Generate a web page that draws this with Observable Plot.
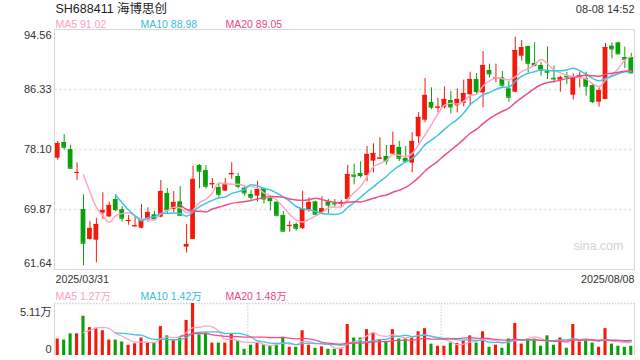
<!DOCTYPE html>
<html><head><meta charset="utf-8">
<script src="https://cdn.jsdelivr.net/npm/d3@7"></script>
<script src="https://cdn.jsdelivr.net/npm/@observablehq/plot@0.6"></script>
<style>
body{margin:0;background:#fff;}
#wrap{width:640px;height:360px;overflow:hidden;background:#fff;}
#wrap svg{display:block;}
</style></head><body>
<div id="wrap"></div>
<script>
const open = [76.91,79.06,78.10,74.90,69.87,65.76,65.66,69.37,68.86,71.24,
69.83,68.27,67.54,67.31,68.54,69.14,68.82,72.07,69.87,70.92,
64.70,65.76,75.91,75.22,73.30,72.89,72.39,74.63,74.40,72.80,
71.93,71.70,72.75,71.38,70.88,69.05,67.58,67.81,67.27,69.87,
70.92,69.46,70.92,70.69,70.56,71.24,74.58,74.81,74.53,76.50,
76.82,77.14,77.46,78.38,76.87,76.23,79.84,82.12,84.55,83.82,
83.86,84.82,84.09,84.41,85.60,87.70,85.87,88.94,87.79,87.93,
86.42,85.96,90.90,92.23,89.90,89.62,88.80,87.88,87.61,88.16,
85.55,87.88,87.84,86.88,84.59,84.96,92.27,92.73,90.72,90.72];
const high = [79.20,80.16,78.70,76.27,71.88,68.22,68.68,72.16,70.88,71.93,
70.28,69.05,68.87,70.56,70.10,69.60,73.85,72.75,72.34,73.03,
67.81,75.81,76.04,75.91,74.12,73.39,74.12,76.27,74.85,72.93,
72.52,73.76,72.80,71.56,70.92,69.60,68.22,68.04,72.39,71.47,
71.01,71.61,71.24,71.24,71.15,75.91,76.09,76.41,78.51,78.88,
79.70,78.65,80.48,79.20,78.51,80.39,83.17,87.84,86.56,85.14,
86.70,86.06,86.42,87.61,88.71,88.53,91.54,89.80,89.80,88.80,
87.43,93.51,93.05,92.27,92.73,90.03,92.18,89.53,88.16,88.71,
88.48,88.71,88.71,86.97,86.56,92.64,92.73,92.82,92.14,91.27];
const low = [76.64,78.01,75.40,73.85,62.14,65.66,62.56,68.50,68.73,69.55,
68.13,67.72,67.45,67.22,68.13,68.32,68.73,69.18,69.41,69.05,
63.88,65.76,72.71,72.71,72.71,71.56,72.34,73.99,72.71,71.70,
71.15,70.92,70.65,69.69,68.82,66.90,66.76,66.90,67.13,69.51,
69.18,69.37,69.28,70.10,70.10,70.92,73.25,74.17,73.67,74.90,
76.73,75.95,77.32,76.45,76.41,74.90,78.92,81.76,83.59,83.13,
83.68,82.99,83.13,83.95,84.23,85.64,83.82,87.93,87.24,86.42,
84.59,85.87,90.22,88.62,89.44,88.16,87.70,87.24,85.96,87.02,
84.87,86.56,85.41,84.41,83.91,84.96,90.54,91.22,89.21,88.48];
const close = [78.92,78.42,75.54,74.95,65.25,67.27,67.81,69.73,70.42,69.87,
68.68,68.36,67.63,68.36,69.46,68.50,72.34,69.83,70.83,69.09,
65.07,73.99,75.13,73.07,73.39,71.97,73.44,74.81,73.07,72.16,
71.56,72.61,71.33,71.10,69.09,66.90,67.68,67.31,69.87,70.83,
69.23,69.96,70.47,70.65,70.83,74.67,74.44,74.53,77.42,77.55,
76.91,76.55,78.65,76.91,76.50,79.20,82.49,85.51,83.91,83.91,
84.96,83.95,84.96,85.78,87.70,86.06,89.62,88.48,87.93,86.93,
85.28,91.68,92.05,89.94,89.62,88.98,88.71,87.79,87.93,88.07,
87.84,88.20,86.79,84.68,86.19,92.09,91.91,91.22,90.49,88.62];
const volume = [1.62,1.52,2.13,2.13,3.86,2.74,2.67,2.43,1.52,1.52,
1.32,1.01,1.15,1.72,1.25,1.25,2.84,1.93,1.49,1.72,
3.45,5.11,2.03,2.20,1.22,1.22,1.22,2.13,1.42,0.61,
1.01,1.25,1.08,0.91,1.05,1.79,0.81,0.81,2.43,1.01,
0.71,0.85,0.61,0.61,0.71,3.05,1.72,1.72,2.54,2.20,
1.56,1.35,2.54,1.62,1.62,1.76,2.33,2.64,1.12,0.91,
0.91,1.22,1.18,1.42,1.93,1.22,2.33,0.81,1.01,0.71,
1.62,3.15,1.12,1.62,1.62,0.91,1.93,1.01,1.72,0.71,
3.05,1.32,1.42,1.22,0.81,2.64,1.12,0.91,0.81,0.91];

const priceTicks = [94.56, 86.33, 78.10, 69.87, 61.64];
const priceGrid = [86.33, 78.10, 69.87];
const volTicks = [5.11, 0];
const volTickLabels = ["5.11万", "0"];
const dateLabels = ["2025/03/31", "2025/08/08"];
const title = "SH688411 海博思创";
const timeLabel = "08-08 14:52";
const maPeriods = [5, 10, 20];
const maPriceLabels = ["MA5 91.02", "MA10 88.98", "MA20 89.05"];
const maVolLabels = ["MA5 1.27万", "MA10 1.42万", "MA20 1.48万"];
const watermark = "sina.com";

const UP = "#f31a0c", DOWN = "#09a009";
const MA_COLORS = ["#ffa6c3", "#3fc5e2", "#ee4f87"];
const MA_TEXT = ["#ffa0bf", "#38bddb", "#f0487f"];
const LEGEND_DX = [1, 86, 171];
const FONT = '"Liberation Sans", Arial, "Noto Sans CJK SC", sans-serif';

const candles = close.map((c, i) => ({
  i, open: open[i], high: high[i], low: low[i], close: c, vol: volume[i],
  color: c >= open[i] ? UP : DOWN
}));
const N = candles.length;
const xDomain = [-0.5, N - 0.5];

function maLines(yField, width) {
  return maPeriods.map((k, j) => Plot.lineY(candles, Plot.windowY(
    {k, anchor: "end", strict: true},
    {x: "i", y: yField, stroke: MA_COLORS[j], strokeWidth: width, curve: "monotone-x"})));
}
function legend(labels, dy) {
  return labels.map((t, j) => Plot.text([t], {
    text: d => d, frameAnchor: "top-left", dx: LEGEND_DX[j], dy, lineAnchor: "bottom",
    textAnchor: "start", fontSize: 10.5, fill: MA_TEXT[j]}));
}

const price = Plot.plot({
  width: 640, height: 290,
  marginLeft: 54, marginRight: 6, marginTop: 29, marginBottom: 21,
  x: {domain: xDomain, axis: null},
  y: {domain: [priceTicks[4], priceTicks[0]], axis: null},
  color: {type: "identity"},
  style: {fontFamily: FONT, background: "#fff", overflow: "visible"},
  marks: [
    Plot.ruleY(priceGrid, {y: d => d, stroke: "#e4e4e4", strokeWidth: 1.6, strokeDasharray: "2.5 2.5"}),
    Plot.frame({stroke: "#d8d8d8"}),
    Plot.text([watermark], {text: d => d, frameAnchor: "bottom-right", dx: -11, dy: -20,
      textAnchor: "end", fontSize: 12.5, fill: "#d3d3d3"}),
    Plot.ruleX(candles, {x: "i", y1: "low", y2: "high", stroke: "color", strokeWidth: 1}),
    Plot.rect(candles, {x1: d => d.i - 0.37, x2: d => d.i + 0.37, y1: "open", y2: "close", fill: "color"}),
    Plot.ruleY(candles, {y: "close", x1: d => d.i - 0.37, x2: d => d.i + 0.37, stroke: "color", strokeWidth: 1.2}),
    ...maLines("close", 1.5),
    Plot.text([priceTicks[0]], {y: d => d, text: d => d.toFixed(2), frameAnchor: "left", dx: -3, dy: 6, textAnchor: "end", fontSize: 11, fill: "#333"}),
    Plot.text(priceTicks.slice(1, 4), {y: d => d, text: d => d.toFixed(2), frameAnchor: "left", dx: -3, textAnchor: "end", fontSize: 11, fill: "#333"}),
    Plot.text([priceTicks[4]], {y: d => d, text: d => d.toFixed(2), frameAnchor: "left", dx: -3, dy: -6, textAnchor: "end", fontSize: 11, fill: "#333"}),
    Plot.text([dateLabels[0]], {text: d => d, frameAnchor: "bottom-left", dx: 1, dy: 13, lineAnchor: "bottom", textAnchor: "start", fontSize: 10.7, fill: "#333"}),
    Plot.text([dateLabels[1]], {text: d => d, frameAnchor: "bottom-right", dy: 13, lineAnchor: "bottom", textAnchor: "end", fontSize: 10.7, fill: "#333"}),
    Plot.text([title], {text: d => d, frameAnchor: "top-left", dx: 1, dy: -16.5, lineAnchor: "bottom", textAnchor: "start", fontSize: 12.5, fill: "#222"}),
    Plot.text([timeLabel], {text: d => d, frameAnchor: "top-right", dy: -17, lineAnchor: "bottom", textAnchor: "end", fontSize: 11, fill: "#333"}),
    ...legend(maPriceLabels, -2)
  ]
});

const vol = Plot.plot({
  width: 640, height: 70,
  marginLeft: 54, marginRight: 6, marginTop: 13, marginBottom: 5,
  x: {domain: xDomain, axis: null},
  y: {domain: [0, volTicks[0]], axis: null},
  color: {type: "identity"},
  style: {fontFamily: FONT, background: "#fff", overflow: "visible"},
  marks: [
    Plot.ruleY([volTicks[0]], {stroke: "#d4d4d4", strokeWidth: 1.4, strokeDasharray: "1.5 1.5"}),
    Plot.ruleX([xDomain[0] + N / 3, xDomain[0] + 2 * N / 3], {stroke: "#d4d4d4", strokeWidth: 1.2, strokeDasharray: "1.5 1.5"}),
    Plot.ruleX(xDomain, {stroke: "#d8d8d8"}),
    Plot.rect(candles, {x1: d => d.i - 0.24, x2: d => d.i + 0.24, y1: 0, y2: "vol", fill: "color"}),
    ...maLines("vol", 1.3),
    Plot.text([volTicks[0]], {y: d => d, text: () => volTickLabels[0], frameAnchor: "left", dx: -3, dy: 8.5, textAnchor: "end", fontSize: 11, fill: "#333"}),
    Plot.text([volTicks[1]], {y: d => d, text: () => volTickLabels[1], frameAnchor: "left", dx: -3, dy: -6, textAnchor: "end", fontSize: 11, fill: "#333"}),
    ...legend(maVolLabels, -4)
  ]
});

document.getElementById("wrap").append(price, vol);
</script>
</body></html>
